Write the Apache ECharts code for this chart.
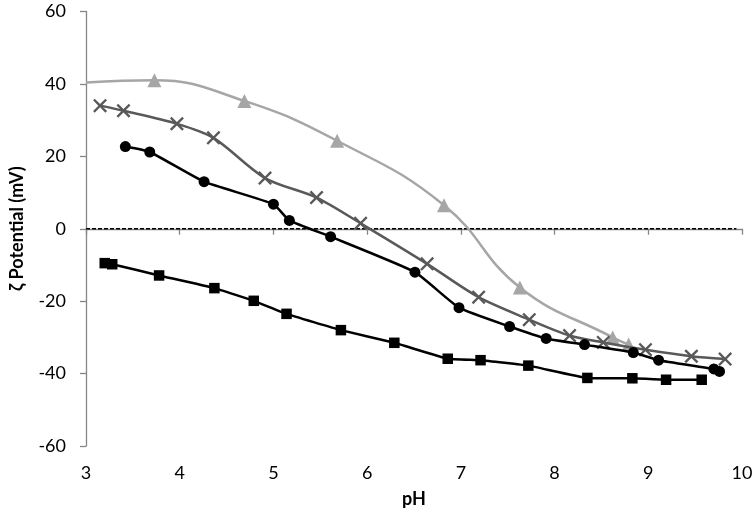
<!DOCTYPE html>
<html>
<head>
<meta charset="utf-8">
<script src="https://cdn.jsdelivr.net/npm/echarts@6/dist/echarts.min.js"></script>
<style>html,body{margin:0;padding:0;background:#fff;}#c{width:756px;height:513px;}</style>
</head>
<body>
<div id="c"></div>
<script>
// pH values and zeta potentials (mV)
var triX = [3.0, 3.73, 4.69, 5.68, 6.82, 7.63, 8.62, 8.79];
var triY = [40.4, 41.0, 35.3, 24.3, 6.5, -16.2, -30.0, -32.0];

var crossX = [3.15, 3.40, 3.97, 4.36, 4.91, 5.46, 5.93, 6.64, 7.19, 7.73, 8.16, 8.52, 8.97, 9.46, 9.82];
var crossY = [34.0, 32.6, 29.0, 25.1, 14.0, 8.6, 1.5, -9.7, -18.9, -25.1, -29.5, -31.4, -33.4, -35.2, -36.0];

var circX = [3.42, 3.68, 4.26, 5.00, 5.17, 5.61, 6.51, 6.98, 7.52, 7.91, 8.32, 8.84, 9.11, 9.70, 9.76];
var circY = [22.7, 21.2, 13.0, 6.8, 2.3, -2.2, -12.0, -21.8, -27.0, -30.3, -32.0, -34.2, -36.3, -38.7, -39.4];

var sqX = [3.20, 3.28, 3.78, 4.37, 4.79, 5.14, 5.72, 6.29, 6.86, 7.21, 7.72, 8.35, 8.83, 9.19, 9.57];
var sqY = [-9.5, -9.8, -12.9, -16.4, -19.9, -23.5, -28.0, -31.5, -35.9, -36.3, -37.8, -41.2, -41.3, -41.7, -41.7];

var zeroX = [3, 9.94];
var zeroY = [0, 0];

var xTicks = ['3','4','5','6','7','8','9','10'];
var yTicks = ['-60','-40','-20','0','20','40','60'];

function pairs(xs, ys) { return xs.map(function (x, i) { return [x, ys[i]]; }); }

var triData = pairs(triX, triY).map(function (p, i) {
  return i === 0 ? { value: p, symbol: 'none' } : p;
});

var crossPath = 'path://M0,1.2 L1.2,0 L5,3.8 L8.8,0 L10,1.2 L6.2,5 L10,8.8 L8.8,10 L5,6.2 L1.2,10 L0,8.8 L3.8,5 Z';
var FONT = 'Lato, "Open Sans", sans-serif';

var chart = echarts.init(document.getElementById('c'), null, { renderer: 'canvas' });
chart.setOption({
  animation: false,
  backgroundColor: '#ffffff',
  grid: { left: 79, right: 14, top: 11.5, bottom: 66.5, containLabel: false },
  xAxis: {
    type: 'value', min: 3, max: 10, interval: 1,
    name: 'pH', nameLocation: 'middle', nameGap: 44,
    nameTextStyle: { fontFamily: FONT, fontSize: 18, fontWeight: 'bold', color: '#000' },
    axisLine: { lineStyle: { color: '#868686', width: 1.3 } },
    axisTick: { show: true, inside: false, length: 6, lineStyle: { color: '#868686', width: 1.3 } },
    axisLabel: { fontFamily: FONT, fontSize: 18, color: '#000', margin: 18,
      formatter: function (v) { return xTicks[Math.round(v - 3)]; } },
    splitLine: { show: false }
  },
  yAxis: {
    type: 'value', min: -60, max: 60, interval: 20,
    name: 'ζ Potential (mV)', nameLocation: 'middle', nameGap: 60,
    nameTextStyle: { fontFamily: FONT, fontSize: 18, fontWeight: 'bold', color: '#000' },
    axisLine: { show: true, lineStyle: { color: '#868686', width: 1.3 } },
    axisTick: { show: true, inside: false, length: 6, lineStyle: { color: '#868686', width: 1.3 } },
    axisLabel: { fontFamily: FONT, fontSize: 18, color: '#000', margin: 20,
      formatter: function (v) { return yTicks[Math.round((v + 60) / 20)]; } },
    splitLine: { show: false }
  },
  series: [
    {
      name: 'zero', type: 'line', data: pairs(zeroX, zeroY), symbol: 'none',
      lineStyle: { color: '#000', width: 1.4, type: [4, 2] }, z: 1, silent: true
    },
    {
      name: 'tri', type: 'line', data: triData, smooth: 0.45,
      symbol: 'triangle', symbolSize: 14,
      itemStyle: { color: '#a6a6a6' },
      lineStyle: { color: '#a6a6a6', width: 2.5 }, z: 2
    },
    {
      name: 'cross', type: 'line', data: pairs(crossX, crossY), smooth: 0.3,
      symbol: crossPath, symbolSize: 14, symbolKeepAspect: true,
      itemStyle: { color: '#595959' },
      lineStyle: { color: '#595959', width: 2.5 }, z: 3
    },
    {
      name: 'circ', type: 'line', data: pairs(circX, circY), smooth: 0.15,
      symbol: 'circle', symbolSize: 11,
      itemStyle: { color: '#000' },
      lineStyle: { color: '#000', width: 2.5 }, z: 4
    },
    {
      name: 'sq', type: 'line', data: pairs(sqX, sqY), smooth: 0.1,
      symbol: 'rect', symbolSize: 10.5,
      itemStyle: { color: '#000' },
      lineStyle: { color: '#000', width: 2.5 }, z: 5
    }
  ]
});
</script>
</body>
</html>
